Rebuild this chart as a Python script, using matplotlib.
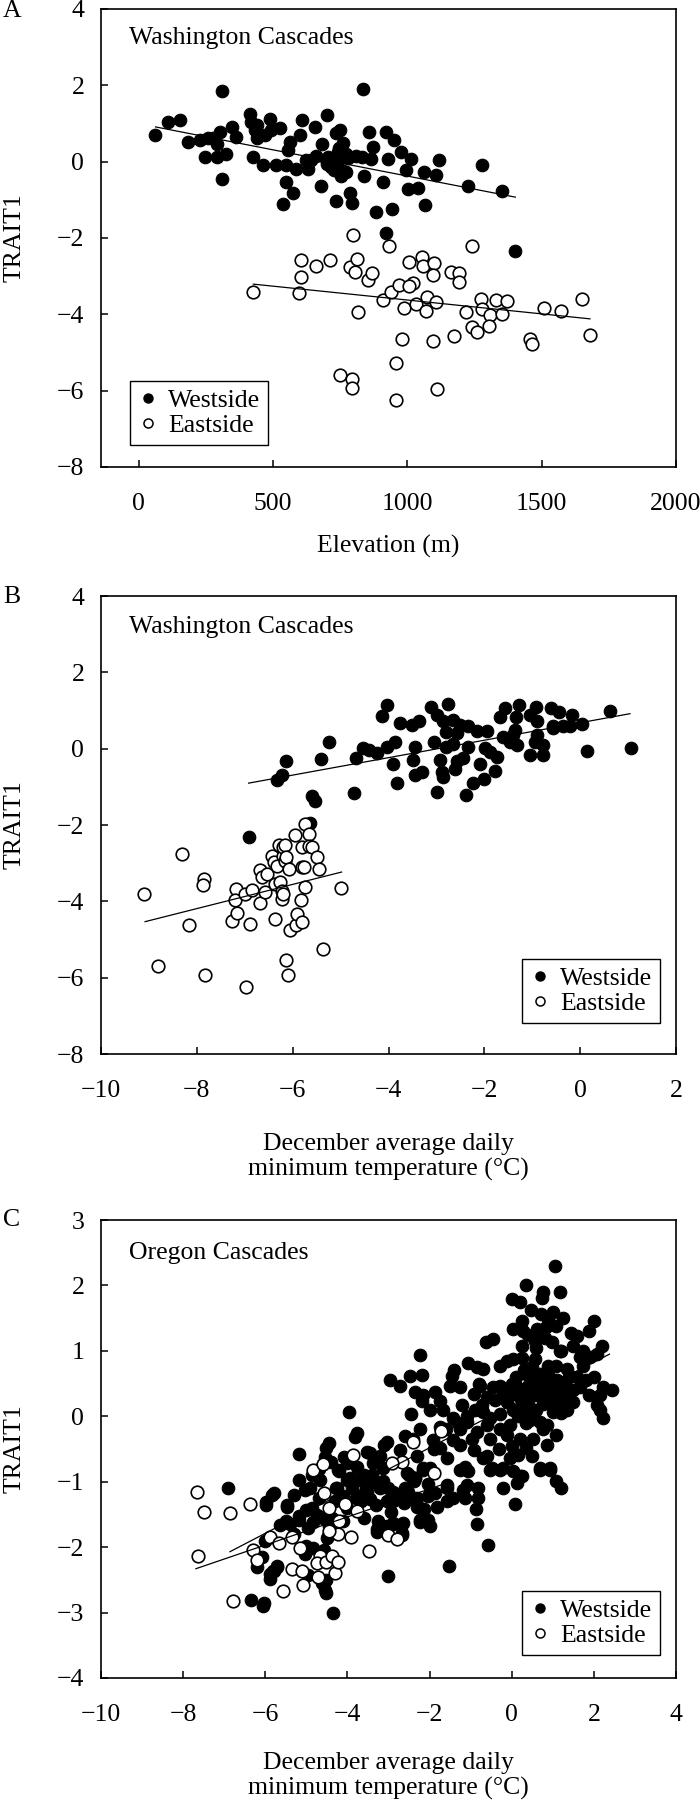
import matplotlib
matplotlib.use("Agg")
import matplotlib.pyplot as plt
from matplotlib.lines import Line2D

plt.rcParams['font.family'] = ['Liberation Serif', 'DejaVu Serif']
plt.rcParams['font.size'] = 18.5
plt.rcParams['axes.linewidth'] = 1.2

# ---- panel A: elevation (m) vs TRAIT1 ----
a_west_elev = [62, 109, 154, 185, 228, 247, 259, 290, 303, 309, 310, 327, 346, 364, 414, 420, 432, 426, 439,
               463, 488, 494, 513, 525, 537, 550, 550, 556, 562, 575, 587, 599, 609, 624, 630, 655, 661, 680,
               683, 698, 701, 723, 729, 735, 735, 741, 748, 754, 772, 772, 785, 794, 809, 836, 840, 859, 865,
               871, 884, 908, 921, 921, 927, 943, 952, 976, 995, 1001, 1013, 1038, 1063, 1066, 1106, 1118,
               1227, 1279, 1351, 1400, 290, 275, 440, 470, 640, 700, 715, 740, 750, 760, 705, 780, 830, 760, 745]
a_west_trait = [0.71, 1.05, 1.09, 0.52, 0.56, 0.12, 0.62, 0.12, 0.78, -0.45, 1.86, 0.21, 0.91, 0.65, 1.24,
                1.05, 0.83, 0.12, 0.61, -0.10, 1.13, 0.83, -0.10, 0.89, -1.12, -0.10, -0.54, 0.30, 0.52,
                -0.81, -0.19, 0.71, 1.09, 0.03, -0.19, 0.91, 0.16, -0.63, 0.47, 0.07, 1.22, -0.01, -0.23,
                0.74, -1.03, 0.25, 0.83, -0.37, 0.21, -0.28, -0.81, -1.09, 0.16, 1.91, -0.37, 0.78, 0.08,
                0.38, -1.32, -0.54, 0.78, -1.87, 0.08, -1.25, 0.56, 0.25, -0.23, -0.72, 0.08, -0.68, -0.28,
                -1.14, -0.35, 0.03, -0.63, -0.08, -0.76, -2.35, 0.45, 0.62, 0.95, 0.70, 0.05, -0.05, -0.15,
                -0.10, 0.10, -0.25, 0.12, 0.10, 0.12, 0.50, 0.35]
a_east_elev = [424, 605, 661, 713, 605, 597, 785, 812, 807, 853, 869, 816, 911, 939, 968, 1007, 1022, 1007,
               989, 1032, 1054, 1057, 1069, 1075, 1100, 1094, 1106, 1162, 1193, 1193, 1174, 1217, 1242, 1261,
               1273, 1279, 1306, 1304, 1329, 1353, 1372, 980, 1096, 958, 748, 795, 795, 958, 1112, 1458, 1464,
               1508, 1573, 1652, 1681, 797, 933, 1240]
a_east_trait = [-3.41, -2.57, -2.73, -2.57, -3.03, -3.44, -2.75, -2.56, -2.88, -3.09, -2.93, -3.94, -3.62,
                -3.41, -3.24, -2.62, -3.18, -3.26, -3.83, -3.72, -2.50, -2.73, -3.92, -3.55, -2.66, -2.97,
                -3.68, -2.88, -2.91, -3.15, -4.56, -3.94, -4.34, -4.47, -3.59, -3.86, -4.03, -4.32, -3.63,
                -3.99, -3.65, -4.65, -4.69, -5.27, -5.58, -5.69, -5.93, -6.24, -5.95, -4.65, -4.78, -3.83,
                -3.92, -3.61, -4.54, -1.93, -2.22, -2.22]
a_west_fit_x = [63, 1402]
a_west_fit_y = [0.91, -0.93]
a_east_fit_x = [427, 1680]
a_east_fit_y = [-3.21, -4.12]

# ---- panel B: December min temperature (Washington) vs TRAIT1 ----
b_west_temp = [-6.92, -6.33, -6.23, -6.13, -5.60, -5.53, -5.64, -5.40, -5.24, -4.73, -4.68, -4.53, -4.40,
               -4.25, -4.14, -4.04, -4.04, -3.86, -3.90, -3.83, -3.77, -3.50, -3.45, -3.48, -3.45, -3.36,
               -3.31, -3.12, -3.05, -2.99, -2.93, -2.99, -2.89, -2.86, -2.86, -2.80, -2.79, -2.75, -2.65,
               -2.65, -2.58, -2.58, -2.61, -2.51, -2.45, -2.38, -2.34, -2.34, -2.24, -2.16, -2.09, -2.01,
               -1.99, -1.95, -1.88, -1.78, -1.74, -1.67, -1.62, -1.57, -1.46, -1.40, -1.36, -1.34, -1.31,
               -1.27, -1.05, -1.05, -0.94, -0.92, -0.91, -0.91, -0.77, -0.78, -0.60, -0.56, -0.56, -0.44,
               -0.35, -0.21, -0.16, 0.03, 0.14, 0.62, 1.06]
b_west_trait = [-2.32, -0.82, -0.68, -0.33, -1.24, -1.37, -1.95, -0.26, 0.19, -1.15, -0.24, 0.01, -0.04,
                -0.12, 0.85, 1.15, 0.05, 0.17, -0.39, -0.90, 0.68, 0.63, 0.05, -0.30, -0.68, 0.72, -0.61,
                1.09, 0.17, 0.88, -0.30, -1.13, -0.61, 0.72, -0.75, 0.05, 0.45, 1.18, 0.76, 0.12, 0.41,
                -0.33, -0.52, 0.63, -0.24, -1.22, 0.61, 0.05, -0.90, 0.47, -0.39, -0.79, 0.01, 0.47, -0.08,
                -0.57, -0.21, 0.83, 0.32, 1.06, 0.19, 0.36, 0.50, 0.83, 0.10, 1.16, 0.88, -0.17, 0.19, 1.09,
                0.74, 0.36, 0.10, -0.17, 1.08, 0.61, 0.54, 0.97, 0.59, 0.61, 0.88, 0.65, -0.06, 1.00, 0.03]
b_east_temp = [-9.10, -8.82, -8.32, -8.16, -7.86, -7.88, -7.83, -7.27, -7.17, -7.18, -7.20, -6.99, -6.97,
               -6.90, -6.84, -6.68, -6.68, -6.65, -6.58, -6.54, -6.44, -6.40, -6.37, -6.37, -6.33, -6.28,
               -6.26, -6.23, -6.22, -6.21, -6.20, -6.20, -6.17, -6.15, -6.14, -6.13, -6.09, -6.07, -6.06,
               -5.96, -5.93, -5.92, -5.83, -5.81, -5.81, -5.81, -5.77, -5.74, -5.74, -5.66, -5.65, -5.60,
               -5.50, -5.45, -5.36, -5.00]
b_east_trait = [-3.81, -5.68, -2.75, -4.63, -3.40, -3.58, -5.92, -4.50, -4.31, -3.67, -3.96, -3.80, -6.23,
                -4.60, -3.69, -4.04, -3.18, -3.36, -3.75, -3.27, -2.81, -2.96, -3.53, -4.46, -3.08, -2.53,
                -3.48, -3.93, -3.73, -2.81, -3.81, -2.57, -2.53, -2.95, -5.53, -2.83, -5.92, -3.14, -4.74,
                -2.25, -4.63, -4.32, -3.97, -3.10, -4.54, -2.57, -3.11, -3.62, -1.96, -2.22, -2.56, -2.57,
                -2.83, -3.15, -5.24, -3.64]
b_west_fit_x = [-6.92, 1.04]
b_west_fit_y = [-0.90, 0.92]
b_east_fit_x = [-9.08, -4.98]
b_east_fit_y = [-4.53, -3.23]

# ---- panel C: December min temperature (Oregon) vs TRAIT1 ----
c_west_temp = [
    -6.90, -5.80, -5.98, -5.46, -5.17, -4.52, -4.44, -5.19, -5.03, -5.64, -5.17, -5.01, -4.87, -4.75, -6.09,
    -5.72, -5.80, -5.88, -6.36, -6.02, -4.36, -4.55, -4.52, -5.03, -5.01, -4.50, -4.46, -4.59, -4.26, -4.22,
    -4.02, -3.77, -3.53, -3.37, -3.13, -3.04, -2.72, -3.65, -3.53, -3.21, -3.13, -2.88, -3.04, -2.72, -2.31,
    -2.23, -2.15, -2.39, -2.03, -3.25, -3.29, -3.04, -2.88, -2.64, -2.68, -3.00, -4.38, -4.10, -3.94, -4.87,
    -4.67,
    -3.95, -3.82, -3.77, -3.44, -3.39, -3.11, -2.97, -3.66, -3.55, -3.44, -3.22, -3.28, -4.31, -4.47, -4.58,
    -4.85, -4.96, -4.63, -4.53, -5.29, -5.39, -5.72, -5.81, -5.89, -6.05, -5.99, -5.83, -5.47, -5.18, -4.96,
    -4.85, -4.55, -4.29, -4.20, -4.09, -4.00, -3.77, -3.00, -2.95, -2.90, -2.81, -2.63, -2.52, -2.35, -2.14,
    -2.24, -2.05,
    1.05, 0.35, 0.75, 1.18, 0.73, 0.00, 0.20, 0.46, 0.71, 0.89, 1.26, 2.00, 0.24, 0.04, 0.28, 0.62, 0.84,
    1.09, 1.44, 1.58, 1.89, -0.63, -0.45, 0.57, 0.97, 0.24, 1.50, 1.73, 2.19, 1.18, 2.07, 1.66, -2.23, -1.06,
    -0.85, -0.69, -0.29, -0.12, 0.04, 0.24, 0.57, 0.89, 1.09, 1.34, 1.74, -2.48, -2.19, -1.46, 0.36, 0.69,
    0.49, 0.97, 1.42, -2.72, -1.50, -1.26, -0.77, -0.45, -0.29, 0.12, 0.40, 0.69, 0.85, 1.18, 1.50, 1.66,
    2.23, 2.43, -2.35, -2.15, -1.87, -0.93, 0.04, 0.36, 0.61, 0.93, 1.34, 1.87, 2.15, -2.19, -1.75, -1.22,
    -0.73, -0.12, 0.24, 0.77, 1.09, 1.50, 2.07, -2.44, -1.67, -1.42, -1.10, -0.69, -0.53, -0.29, 0.04, 0.28,
    0.53, 1.01, 1.34, 2.15, 2.23, -2.23, -1.75, -1.26, -0.85, -0.61, -0.29, -0.04, 0.36, 0.69, 0.85, 1.09,
    -2.40, -1.91, -1.42, -0.97, -0.53, -0.12, 0.20, 0.53, 0.85, -1.75, -1.26, -0.93, -0.69, -0.49, -0.20,
    -0.04, 0.16, 0.36, 0.69, 0.93, 0.20, -1.99, -1.58, -1.14, 1.09, -2.35, -1.58, -1.10,
    -2.56, -2.35, -2.15, -2.64, -2.40, -2.31, -2.03, -1.87, -1.83, -1.58, -1.58, -1.42, -1.18, -1.14, -0.81,
    -0.81, -0.87, -0.85, -0.57, -1.53, -0.22, 0.08, 0.12, 0.24, 1.19, -1.26, -1.06, -0.53, -0.29, 0.04, 0.69,
    0.93, -2.23, -1.99, -2.68, -2.68,
    0.10, 0.30, 0.50, 0.70, 0.90, 1.10, 1.30, 0.20, 0.40, 0.60, 0.80, 1.00, 1.20, 0.00, 0.15, 0.45, 0.75,
    1.20, 1.40, -0.20, -0.40, -0.60, -0.90, -1.10, -1.30, -1.60, -0.30, -0.60, 0.00, 0.50, 1.60, 1.80, 2.00,
    1.90, 1.20, 0.60, 0.40, 1.00, 0.80, -1.90, -2.30, -2.60, -2.00, -1.40, -0.80,
    -4.90, -4.70, -4.30, -4.00, -3.80, -3.60, -3.40, -3.90, -4.10, -3.60, -3.30, -2.90, -2.60, -2.50, -3.20,
    -4.40, -4.70, -5.30, -5.50, -6.00, -6.20]
c_west_trait = [
    -1.09, -1.17, -1.31, -1.36, -0.57, -0.49, -0.41, -0.98, -1.12, -1.66, -1.53, -1.43, -1.40, -1.51, -2.15,
    -2.29, -2.36, -2.41, -2.81, -2.85, -3.01, -2.66, -2.51, -2.11, -1.98, -1.86, -1.68, -1.55, -1.10, -0.82,
    -0.72, -0.77, -0.54, -0.72, -0.79, -0.39, -0.52, -1.20, -1.15, -1.10, -0.99, -1.15, -1.30, -1.20, -1.25,
    -1.40, -0.79, -0.99, -1.58, -1.60, -1.73, -1.68, -1.63, -1.63, -1.78, -2.44, -1.55, -1.22, -0.95, -0.89,
    -0.97,
    0.06, -0.32, -0.26, -0.56, -0.89, -0.44, 0.56, -1.29, -1.10, -1.26, -1.65, -1.77, -1.77, -1.83, -2.04,
    -2.01, -2.43, -2.55, -2.70, -1.80, -1.65, -2.31, -2.37, -2.48, -2.90, -1.35, -1.21, -1.38, -1.59, -1.71,
    -1.62, -0.62, -1.10, -0.83, -0.62, -0.98, -0.98, -1.10, -1.47, -1.65, -1.23, -1.32, -1.16, -1.29, -1.41,
    -1.62, -1.04,
    2.29, 2.01, 1.90, 1.90, 1.81, 1.79, 1.75, 1.62, 1.57, 1.48, 1.51, 1.46, 1.46, 1.33, 1.31, 1.33, 1.36,
    1.38, 1.27, 1.23, 1.30, 1.14, 1.18, 1.15, 1.13, 1.07, 1.08, 1.00, 1.08, 1.00, 0.95, 0.90, 0.94, 0.82,
    0.75, 0.72, 0.77, 0.85, 0.88, 0.89, 0.88, 0.77, 0.77, 0.72, 0.77, 0.62, 0.63, 0.62, 0.65, 0.65,
    0.55, 0.52, 0.62, 0.47, 0.46, 0.45, 0.47, 0.45, 0.47, 0.45, 0.47, 0.45, 0.50, 0.40, 0.40, 0.45,
    0.45, 0.40, 0.37, 0.32, 0.37, 0.34, 0.34, 0.32, 0.32, 0.37, 0.32, 0.32, 0.32, 0.24, 0.24, 0.17,
    0.17, 0.22, 0.17, 0.19, 0.17, 0.22, 0.17, 0.03, 0.09, -0.03, -0.09, 0.07, -0.03, 0.04, 0.09, 0.02,
    0.04, 0.07, 0.09, 0.09, -0.03, -0.19, -0.16, -0.19, -0.24, -0.14, -0.19, -0.14, -0.11, -0.09, -0.14, -0.29,
    -0.34, -0.36, -0.36, -0.34, -0.34, -0.29, -0.34, -0.34, -0.44, -0.49, -0.44, -0.51, -0.64, -0.79, -0.79,
    -0.64, -0.59, -0.49, -0.79, -0.79, -0.92, -0.79, -0.64, -0.77, -0.99, -0.95, -1.05, -1.05,
    -0.87, -0.95, -0.82, -1.15, -1.25, -1.38, -1.22, -1.17, -1.38, -1.10, -1.30, -1.25, -1.12, -1.25, -1.10,
    -1.25, -1.41, -1.64, -1.96, -2.29, -1.10, -1.34, -1.02, -0.92, -1.10, -0.82, -0.84, -0.82, -0.82, -0.84, -0.82,
    -0.82, -1.58, -1.68, -1.81, -1.65,
    0.60, 0.70, 0.75, 0.55, 0.60, 0.55, 0.50, 0.30, 0.20, 0.10, 0.25, 0.30, 0.25, 0.50, 0.00, -0.05, -0.20,
    0.05, 0.60, 0.35, 0.25, 0.30, 0.10, 0.00, -0.10, -0.20, -0.50, -0.60, -0.45, -0.60, 0.60, 0.55, 0.60,
    0.90, 1.00, 1.05, 1.25, 1.60, 1.20, -0.50, -0.60, -0.30, 0.10, 0.70, 0.50,
    -1.10, -1.25, -1.30, -1.40, -1.25, -0.90, -1.00, -1.10, -1.60, -1.55, -1.35, -1.30, -1.10, -0.90, -0.60,
    -0.70, -0.80, -1.20, -1.60, -1.90, -2.30]
c_east_temp = [-7.67, -7.49, -6.86, -6.37, -7.63, -6.79, -6.31, -6.19, -5.88, -5.67, -5.36, -5.58, -5.36,
               -5.11, -5.09, -5.15, -4.83, -4.59, -4.57, -4.46, -4.06, -4.20, -4.22, -3.92, -4.68, -4.75,
               -4.71, -4.51, -4.38, -4.30, -4.22, -3.86, -3.47, -3.00, -2.80, -2.68, -2.41, -3.77, -4.46,
               -1.90, -1.72, -2.92]
c_east_trait = [-1.16, -1.47, -1.48, -1.34, -2.13, -2.82, -2.04, -2.19, -1.85, -1.93, -1.85, -2.67, -2.33,
                -2.36, -2.58, -2.01, -0.82, -0.73, -1.17, -1.40, -1.34, -1.60, -1.80, -1.85, -2.13, -2.25,
                -2.46, -2.22, -2.13, -2.39, -2.23, -0.59, -2.06, -1.82, -1.88, -0.70, -0.40, -1.45, -1.75,
                -0.86, -0.22, -0.72]
c_west_fit_x = [-6.86, 2.38]
c_west_fit_y = [-2.07, 0.95]
c_east_fit_x = [-7.69, -1.72]
c_east_fit_y = [-2.33, -1.05]

fig = plt.figure(figsize=(7, 18), dpi=100)

panels = [
    dict(rect=[0.1443, 0.7406, 0.8214, 0.2544], letter='A', ly=0.9939,
         wx=a_west_elev, wy=a_west_trait, ex=a_east_elev, ey=a_east_trait,
         wfx=a_west_fit_x, wfy=a_west_fit_y, efx=a_east_fit_x, efy=a_east_fit_y,
         xlim=(-140, 2000), ylim=(-8, 4), xticks=range(0, 2001, 500), yticks=range(-8, 5, 2),
         title='Washington Cascades', ty=0.937, xlabel='Elevation (m)', xly=-0.174,
         leg_loc='lower left', leg_anchor=(0.05, 0.048)),
    dict(rect=[0.1443, 0.4144, 0.8214, 0.2544], letter='B', ly=0.6683,
         wx=b_west_temp, wy=b_west_trait, ex=b_east_temp, ey=b_east_trait,
         wfx=b_west_fit_x, wfy=b_west_fit_y, efx=b_east_fit_x, efy=b_east_fit_y,
         xlim=(-10, 2), ylim=(-8, 4), xticks=range(-10, 3, 2), yticks=range(-8, 5, 2),
         title='Washington Cascades', ty=0.933,
         xlabel='December average daily\nminimum temperature (\u00b0C)', xly=-0.224,
         leg_loc='lower right', leg_anchor=(0.972, 0.068)),
    dict(rect=[0.1443, 0.0678, 0.8214, 0.2544], letter='C', ly=0.322,
         wx=c_west_temp, wy=c_west_trait, ex=c_east_temp, ey=c_east_trait,
         wfx=c_west_fit_x, wfy=c_west_fit_y, efx=c_east_fit_x, efy=c_east_fit_y,
         xlim=(-10, 4), ylim=(-4, 3), xticks=range(-10, 5, 2), yticks=range(-4, 4, 1),
         title='Oregon Cascades', ty=0.928,
         xlabel='December average daily\nminimum temperature (\u00b0C)', xly=-0.214,
         leg_loc='lower right', leg_anchor=(0.972, 0.05)),
]

for p in panels:
    ax = fig.add_axes(p['rect'])
    ax.scatter(p['wx'], p['wy'], s=82, c='black', edgecolors='black', linewidths=0.8, zorder=2)
    ax.scatter(p['ex'], p['ey'], s=82, c='white', edgecolors='black', linewidths=1.2, zorder=3)
    ax.plot(p['wfx'], p['wfy'], color='black', lw=0.9, zorder=4)
    ax.plot(p['efx'], p['efy'], color='black', lw=0.9, zorder=4)
    ax.set_xlim(p['xlim'])
    ax.set_ylim(p['ylim'])
    ax.set_xticks(list(p['xticks']))
    ax.set_yticks(list(p['yticks']))
    ax.tick_params(axis='x', direction='in', length=5, width=1.1, pad=19)
    ax.tick_params(axis='y', direction='in', length=5, width=1.1, pad=12)
    ax.set_ylabel('TRAIT1', va='center')
    ax.yaxis.set_label_coords(-0.15, 0.5)
    ax.set_xlabel(p['xlabel'], va='center', linespacing=1.15)
    ax.xaxis.set_label_coords(0.5, p['xly'])
    ax.text(0.049, p['ty'], p['title'], transform=ax.transAxes, va='center', ha='left')
    handles = [Line2D([], [], ls='none', marker='o', ms=6.5, mfc='black', mec='black', label='Westside'),
               Line2D([], [], ls='none', marker='o', ms=6.5, mfc='white', mec='black', mew=1.1,
                      label='Eastside')]
    leg = ax.legend(handles=handles, loc=p['leg_loc'], bbox_to_anchor=p['leg_anchor'],
                    borderaxespad=0, fancybox=False, framealpha=1, edgecolor='black',
                    handlelength=0.8, handletextpad=0.4, labelspacing=0.1, borderpad=0.3)
    leg.get_frame().set_linewidth(1.0)
    fig.text(0.004, p['ly'], p['letter'], va='center', ha='left')

fig.savefig('out.png', dpi=100)
